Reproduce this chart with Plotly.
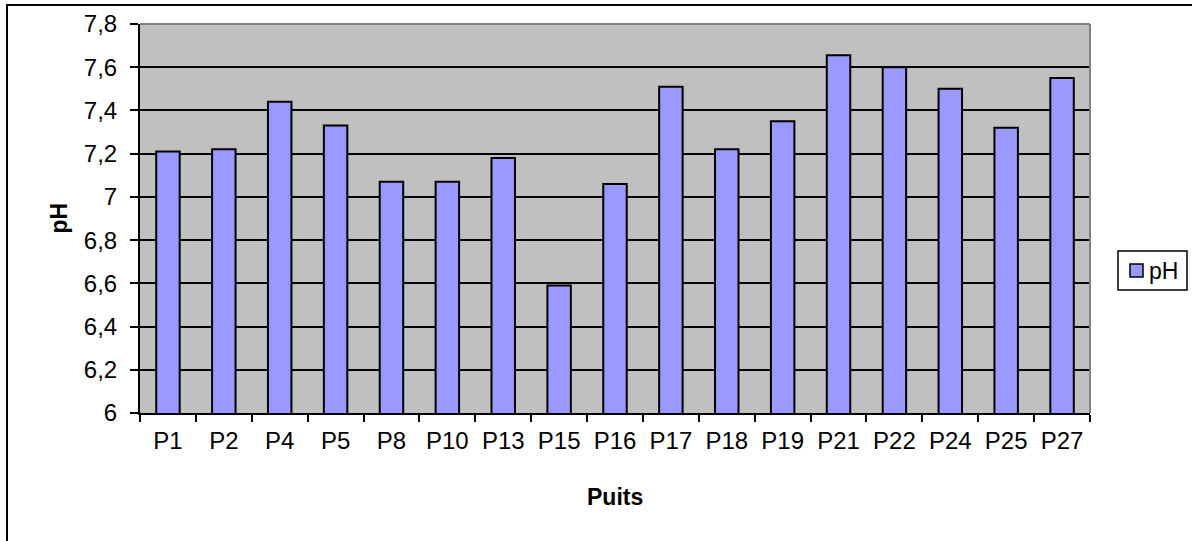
import plotly.graph_objects as go

# pH measured at each well
puits = ["P1", "P2", "P4", "P5", "P8", "P10", "P13", "P15", "P16", "P17",
         "P18", "P19", "P21", "P22", "P24", "P25", "P27"]
ph = [7.21, 7.22, 7.44, 7.33, 7.07, 7.07, 7.18, 6.59, 7.06, 7.51,
      7.22, 7.35, 7.655, 7.60, 7.50, 7.32, 7.55]

FONT = "Liberation Sans, Arial, sans-serif"
BAR_COLOR = "#9999FF"

# plot-area geometry in pixels (used to place the frame and the key)
L, R, T, B = 140, 1090, 24, 413
W, H = R - L, B - T


def px(x):
    return (x - L) / W


def py(y):
    return (B - y) / H


fig = go.Figure(
    go.Bar(
        x=puits,
        y=ph,
        name="pH",
        showlegend=False,
        marker=dict(color=BAR_COLOR, line=dict(color="black", width=2)),
    )
)

fig.update_layout(
    width=1192,
    height=541,
    margin=dict(l=L, r=1192 - R, t=T, b=541 - B, autoexpand=False),
    paper_bgcolor="white",
    plot_bgcolor="#C0C0C0",
    separators=", ",
    bargap=0.58,
    font=dict(family=FONT, size=24, color="black"),
    showlegend=False,
    xaxis=dict(
        type="category",
        showline=True, linecolor="black", linewidth=2,
        ticks="outside", tickson="boundaries", ticklen=7, tickwidth=1.5,
        tickcolor="black", showgrid=False,
        ticklabelstandoff=5,
    ),
    yaxis=dict(
        range=[6, 7.8], dtick=0.2, tick0=6,
        showline=True, linecolor="black", linewidth=2,
        ticks="outside", ticklen=8, tickwidth=1.5, tickcolor="black",
        showgrid=True, gridcolor="black", gridwidth=1.5,
        ticklabelstandoff=8,
        zeroline=False,
    ),
    annotations=[
        dict(text="<b>pH</b>", textangle=-90, xref="paper", yref="paper",
             x=px(58), y=0.5, showarrow=False,
             xanchor="center", yanchor="middle", font=dict(size=23)),
        dict(text="<b>Puits</b>", xref="paper", yref="paper",
             x=0.5, y=py(497), showarrow=False,
             xanchor="center", yanchor="middle", font=dict(size=23)),
        # key label
        dict(text="pH", xref="paper", yref="paper",
             x=px(1147), y=py(270.5), showarrow=False,
             xanchor="left", yanchor="middle", font=dict(size=23)),
    ],
    shapes=[
        # grey frame on the top and right of the plot area
        dict(type="line", xref="paper", yref="paper", x0=0, x1=1, y0=1, y1=1,
             line=dict(color="#808080", width=2)),
        dict(type="line", xref="paper", yref="paper", x0=1, x1=1, y0=0, y1=1,
             line=dict(color="#808080", width=2)),
        # outer chart border
        dict(type="rect", xref="paper", yref="paper",
             x0=px(7), x1=px(1200), y0=py(560), y1=py(5),
             line=dict(color="black", width=2), layer="below"),
        # key box and swatch
        dict(type="rect", xref="paper", yref="paper",
             x0=px(1118), x1=px(1187), y0=py(290), y1=py(251),
             line=dict(color="black", width=1.5), fillcolor="white"),
        dict(type="rect", xref="paper", yref="paper",
             x0=px(1130), x1=px(1143), y0=py(277), y1=py(264),
             line=dict(color="black", width=1.5), fillcolor=BAR_COLOR),
    ],
)

fig.write_html("out.html")
